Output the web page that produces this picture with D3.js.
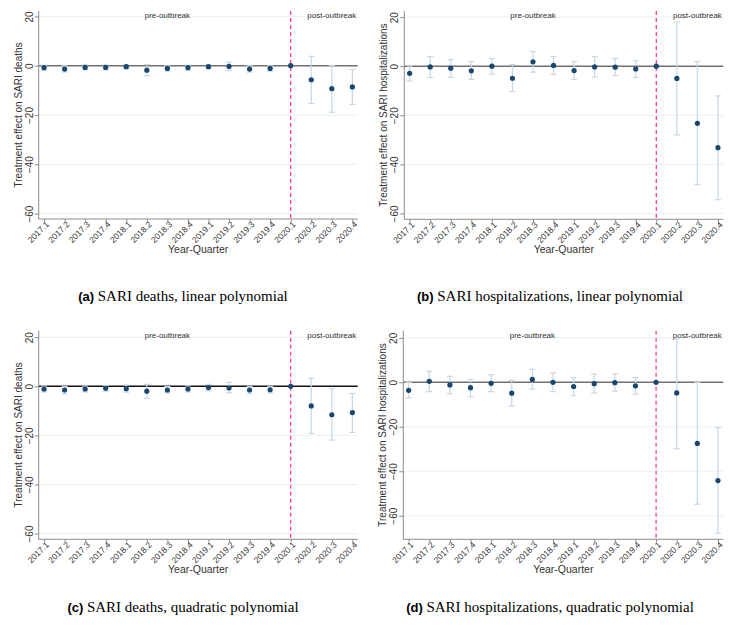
<!DOCTYPE html>
<html>
<head>
<meta charset="utf-8">
<script src="https://cdn.jsdelivr.net/npm/d3@7"></script>
<style>
  body { margin: 0; background: #fff; }
  svg { display: block; }
</style>
</head>
<body>
<svg id="chart" width="735" height="627"></svg>
<script>
// quarters on the x axis
const quarters = ["2017.1","2017.2","2017.3","2017.4","2018.1","2018.2","2018.3","2018.4",
                  "2019.1","2019.2","2019.3","2019.4","2020.1","2020.2","2020.3","2020.4"];
const yTicks = [20, 0, -20, -40, -60];

// (a) deaths, linear
const deathsLinEst = [-0.8,-1.35,-0.7,-0.7,-0.4,-1.8,-1.1,-0.8,-0.4,-0.3,-1.35,-1.1,0,-5.7,-9.3,-8.6];
const deathsLinLo  = [-1.8,-2.6,-1.7,-1.7,-1.2,-4.0,-2.2,-1.8,-1.2,-2.0,-2.6,-2.2,null,-15.3,-18.9,-15.7];
const deathsLinHi  = [0.2,0.0,0.3,0.3,0.4,0.5,0.0,0.2,0.4,1.4,0.0,0.0,null,3.8,0.0,-1.5];

// (b) hospitalizations, linear
const hospLinEst = [-2.9,-0.3,-0.8,-1.9,0.0,-4.9,1.8,0.3,-1.8,-0.3,-0.4,-1.1,0,-5.0,-23.3,-33.2];
const hospLinLo  = [-6.0,-4.6,-4.5,-5.4,-3.3,-10.3,-2.4,-3.3,-5.4,-4.4,-3.8,-4.6,null,-28.0,-48.3,-54.4];
const hospLinHi  = [0.1,3.9,2.7,1.9,3.1,0.7,6.0,3.9,1.9,3.9,3.1,2.3,null,18.0,1.9,-12.1];

// (c) deaths, quadratic
const deathsQuadEst = [-1.1,-1.5,-1.1,-0.8,-1.0,-2.0,-1.5,-1.1,-0.5,-0.7,-1.5,-1.4,0,-8.0,-11.6,-10.7];
const deathsQuadLo  = [-2.3,-3.1,-2.3,-2.0,-2.4,-4.9,-2.7,-2.3,-1.8,-2.6,-3.0,-2.7,null,-19.2,-21.9,-18.8];
const deathsQuadHi  = [0.1,0.0,0.1,0.3,0.5,0.8,-0.1,0.2,0.8,1.6,0.0,0.0,null,3.3,-1.0,-2.9];

// (d) hospitalizations, quadratic
const hospQuadEst = [-3.6,0.45,-1.2,-2.4,-0.45,-4.9,1.3,0.0,-1.9,-0.6,-0.15,-1.6,0,-4.8,-27.5,-44.2];
const hospQuadLo  = [-7.0,-4.2,-5.2,-6.5,-4.2,-10.7,-3.1,-4.2,-6.0,-4.8,-4.0,-5.4,null,-29.9,-54.8,-67.9];
const hospQuadHi  = [-0.1,4.9,2.7,1.3,3.4,0.9,5.8,4.2,2.1,3.7,3.7,2.1,null,19.5,0.0,-20.4];

const svg = d3.select("#chart");
svg.append("rect").attr("width", 735).attr("height", 627).attr("fill", "#fff");

const navy = "#1a476f", ciColor = "#c9d7e3", gridColor = "#e9f0f3", axisColor = "#8c8c8c";
const sans = "Liberation Sans, Arial, sans-serif";

const panels = [
  { est: deathsLinEst, lo: deathsLinLo, hi: deathsLinHi, ytitle: "Treatment effect on SARI deaths",
    left: 38.7, right: 357.7, top: 11, bottom: 219, dom: [-62.2, 22.2], zero: "#707070",
    capX: 183, capY: 301, letter: "(a)", cap: "SARI deaths, linear polynomial" },
  { est: hospLinEst, lo: hospLinLo, hi: hospLinHi, ytitle: "Treatment effect on SARI hospitalizations",
    left: 404.3, right: 723.3, top: 11, bottom: 219.3, dom: [-62.4, 22.5], zero: "#707070",
    capX: 550, capY: 301, letter: "(b)", cap: "SARI hospitalizations, linear polynomial" },
  { est: deathsQuadEst, lo: deathsQuadLo, hi: deathsQuadHi, ytitle: "Treatment effect on SARI deaths",
    left: 38.7, right: 357.7, top: 330.7, bottom: 539.3, dom: [-62.35, 22.66], zero: "#111",
    capX: 183, capY: 612, letter: "(c)", cap: "SARI deaths, quadratic polynomial" },
  { est: hospQuadEst, lo: hospQuadLo, hi: hospQuadHi, ytitle: "Treatment effect on SARI hospitalizations",
    left: 403.3, right: 723.3, top: 330.7, bottom: 539.3, dom: [-70.6, 23.2], zero: "#707070",
    capX: 550, capY: 612, letter: "(d)", cap: "SARI hospitalizations, quadratic polynomial" }
];

panels.forEach(p => {
  const g = svg.append("g");
  const x = d3.scalePoint().domain(quarters).range([p.left, p.right]).padding(0.26);
  const y = d3.scaleLinear().domain(p.dom).range([p.bottom, p.top]);

  // grid lines
  g.selectAll(".grid").data(yTicks.filter(t => t !== 0)).enter().append("line")
    .attr("x1", p.left).attr("x2", p.right)
    .attr("y1", d => y(d)).attr("y2", d => y(d))
    .attr("stroke", gridColor).attr("stroke-width", 1);

  // zero reference line
  g.append("line").attr("x1", p.left).attr("x2", p.right)
    .attr("y1", y(0)).attr("y2", y(0))
    .attr("stroke", p.zero).attr("stroke-width", 1.6);

  // outbreak line
  g.append("line").attr("x1", x("2020.1")).attr("x2", x("2020.1"))
    .attr("y1", p.top).attr("y2", p.bottom)
    .attr("stroke", "#ff3d9a").attr("stroke-width", 1.3).attr("stroke-dasharray", "4,3");

  // confidence intervals
  const rows = quarters.map((q, i) => ({ q, est: p.est[i], lo: p.lo[i], hi: p.hi[i] }));
  const ci = rows.filter(d => d.lo !== null);
  g.selectAll(".ci").data(ci).enter().append("line")
    .attr("x1", d => x(d.q)).attr("x2", d => x(d.q))
    .attr("y1", d => y(d.lo)).attr("y2", d => y(d.hi))
    .attr("stroke", ciColor).attr("stroke-width", 1.2);
  ["lo", "hi"].forEach(k => {
    g.selectAll(".cap" + k).data(ci).enter().append("line")
      .attr("x1", d => x(d.q) - 3).attr("x2", d => x(d.q) + 3)
      .attr("y1", d => y(d[k])).attr("y2", d => y(d[k]))
      .attr("stroke", ciColor).attr("stroke-width", 1.2);
  });

  // point estimates
  g.selectAll(".pt").data(rows).enter().append("circle")
    .attr("cx", d => x(d.q)).attr("cy", d => y(d.est)).attr("r", 2.6)
    .attr("fill", navy);

  // y axis
  const yAxis = d3.axisLeft(y).tickValues(yTicks).tickSize(4).tickSizeOuter(0);
  const ya = g.append("g").attr("transform", `translate(${p.left},0)`).call(yAxis);
  ya.select(".domain").attr("stroke", axisColor).attr("d", `M0,${p.top}V${p.bottom}`);
  ya.selectAll(".tick line").attr("stroke", axisColor);
  ya.selectAll(".tick text")
    .attr("x", 0).attr("dy", 0)
    .attr("transform", "translate(-6,0) rotate(-90)")
    .attr("text-anchor", "middle")
    .attr("font-family", sans).attr("font-size", 10).attr("fill", "#333");

  // x axis
  const xAxis = d3.axisBottom(x).tickSize(3).tickSizeOuter(0);
  const xa = g.append("g").attr("transform", `translate(0,${p.bottom})`).call(xAxis);
  xa.select(".domain").attr("stroke", axisColor).attr("d", `M${p.left},0H${p.right}`);
  xa.selectAll(".tick line").attr("stroke", axisColor);
  xa.selectAll(".tick text")
    .attr("y", 0).attr("dy", 0)
    .attr("transform", "translate(5,6) rotate(-45)")
    .attr("text-anchor", "end")
    .attr("font-family", sans).attr("font-size", 8.5).attr("fill", "#333");

  // axis titles
  const midX = (p.left + p.right) / 2, midY = (p.top + p.bottom) / 2;
  g.append("text").text("Year-Quarter")
    .attr("x", midX).attr("y", p.bottom + 34).attr("text-anchor", "middle")
    .attr("font-family", sans).attr("font-size", 10.5).attr("fill", "#333");
  g.append("text").text(p.ytitle)
    .attr("transform", `translate(${p.left - 17},${midY}) rotate(-90)`)
    .attr("text-anchor", "middle")
    .attr("font-family", sans).attr("font-size", 10).attr("fill", "#333");

  // period labels
  g.append("text").text("pre-outbreak")
    .attr("x", x("2018.3")).attr("y", p.top + 7).attr("text-anchor", "middle")
    .attr("font-family", sans).attr("font-size", 8).attr("fill", "#333");
  g.append("text").text("post-outbreak")
    .attr("x", x("2020.3")).attr("y", p.top + 7).attr("text-anchor", "middle")
    .attr("font-family", sans).attr("font-size", 8).attr("fill", "#333");

  // caption
  const cap = g.append("text").attr("x", p.capX).attr("y", p.capY).attr("text-anchor", "middle");
  cap.append("tspan").text(p.letter + " ")
    .attr("font-family", sans).attr("font-weight", "bold").attr("font-size", 13);
  cap.append("tspan").text(p.cap)
    .attr("font-family", "Liberation Serif, Times New Roman, serif").attr("font-size", 15);
});
</script>
</body>
</html>
